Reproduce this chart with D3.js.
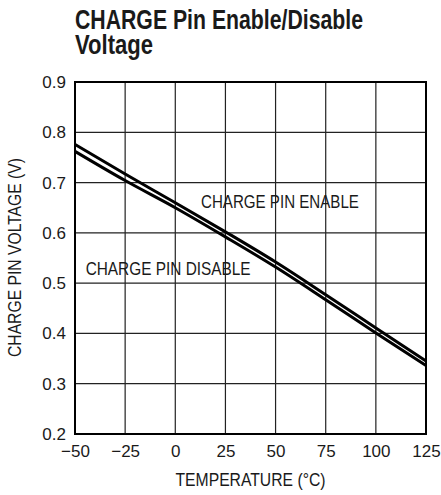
<!DOCTYPE html>
<html>
<head>
<meta charset="utf-8">
<script src="https://cdn.jsdelivr.net/npm/d3@7"></script>
<style>
  body { margin: 0; background: #fff; }
  svg text { font-family: "Liberation Sans", Arial, sans-serif; fill: #1a1a1a; }
</style>
</head>
<body>
<svg id="chart" width="441" height="495"></svg>
<script>
// temperature (C) vs CHARGE pin voltage (V)
var temps = [-50, -25, 0, 25, 50, 75, 100, 125];
var enableV = [0.776, 0.717, 0.660, 0.602, 0.542, 0.477, 0.411, 0.345];
var disableV = [0.762, 0.704, 0.650, 0.592, 0.532, 0.467, 0.401, 0.336];
var xTicks = [-50, -25, 0, 25, 50, 75, 100, 125];
var yTicks = [0.2, 0.3, 0.4, 0.5, 0.6, 0.7, 0.8, 0.9];

var margin = {left: 75, top: 82, right: 15, bottom: 61};
var svg = d3.select("#chart");
var W = 441 - margin.left - margin.right,
    H = 495 - margin.top - margin.bottom;

var x = d3.scaleLinear().domain([-50, 125]).range([0, W]);
var y = d3.scaleLinear().domain([0.2, 0.9]).range([H, 0]);

// no condensed font installed, so squeeze the text to the original widths
function narrow(sel, w){
    sel.attr("textLength", w).attr("lengthAdjust", "spacingAndGlyphs");
    return sel;
}

// title
narrow(svg.append("text").attr("x", 75).attr("y", 29)
    .style("font-weight", "bold").style("font-size", "27px")
    .text("CHARGE Pin Enable/Disable"), 288);
narrow(svg.append("text").attr("x", 75).attr("y", 54)
    .style("font-weight", "bold").style("font-size", "27px")
    .text("Voltage"), 78);

var g = svg.append("g").attr("transform", "translate(" + margin.left + "," + margin.top + ")");

// grid
g.selectAll(".vgrid").data(xTicks).enter().append("line")
    .attr("x1", function(d){ return x(d); }).attr("x2", function(d){ return x(d); })
    .attr("y1", 0).attr("y2", H)
    .attr("stroke", "#222").attr("stroke-width", 1.2);
g.selectAll(".hgrid").data(yTicks).enter().append("line")
    .attr("y1", function(d){ return y(d); }).attr("y2", function(d){ return y(d); })
    .attr("x1", 0).attr("x2", W)
    .attr("stroke", "#222").attr("stroke-width", 1.2);

g.append("rect").attr("width", W).attr("height", H)
    .attr("fill", "none").attr("stroke", "#000").attr("stroke-width", 2);

// axes (labels only, no tick marks)
var fmt = d3.format(".1f");
var yAxis = d3.axisLeft(y).tickValues(yTicks).tickFormat(fmt).tickSize(0).tickPadding(9);
var xAxis = d3.axisBottom(x).tickValues(xTicks).tickFormat(d3.format("d")).tickSize(0).tickPadding(11);
var ya = g.append("g").call(yAxis);
var xa = g.append("g").attr("transform", "translate(0," + H + ")").call(xAxis);
[ya, xa].forEach(function(a){
    a.select(".domain").remove();
    a.selectAll("text").style("font-size", "17px")
        .style("font-family", "'Liberation Sans', Arial, sans-serif")
        .attr("fill", "#1a1a1a");
});

// curves
var line = d3.line().curve(d3.curveMonotoneX)
    .x(function(d){ return x(d[0]); }).y(function(d){ return y(d[1]); });
[enableV, disableV].forEach(function(vals){
    var pts = temps.map(function(t, i){ return [t, vals[i]]; });
    g.append("path").datum(pts).attr("d", line)
        .attr("fill", "none").attr("stroke", "#000").attr("stroke-width", 3);
});

// curve labels
narrow(g.append("text").attr("x", x(12.8)).attr("y", y(0.6495))
    .style("font-size", "18px").text("CHARGE PIN ENABLE"), 158);
narrow(g.append("text").attr("x", x(-44.7)).attr("y", y(0.5162))
    .style("font-size", "18px").text("CHARGE PIN DISABLE"), 165);

// axis titles
narrow(svg.append("text").attr("x", margin.left + W / 2 - 75).attr("y", 486)
    .style("font-size", "18px")
    .text("TEMPERATURE (°C)"), 150);
narrow(svg.append("text").attr("transform", "translate(21," + (margin.top + H / 2 + 99) + ") rotate(-90)")
    .style("font-size", "18px")
    .text("CHARGE PIN VOLTAGE (V)"), 199);
</script>
</body>
</html>
